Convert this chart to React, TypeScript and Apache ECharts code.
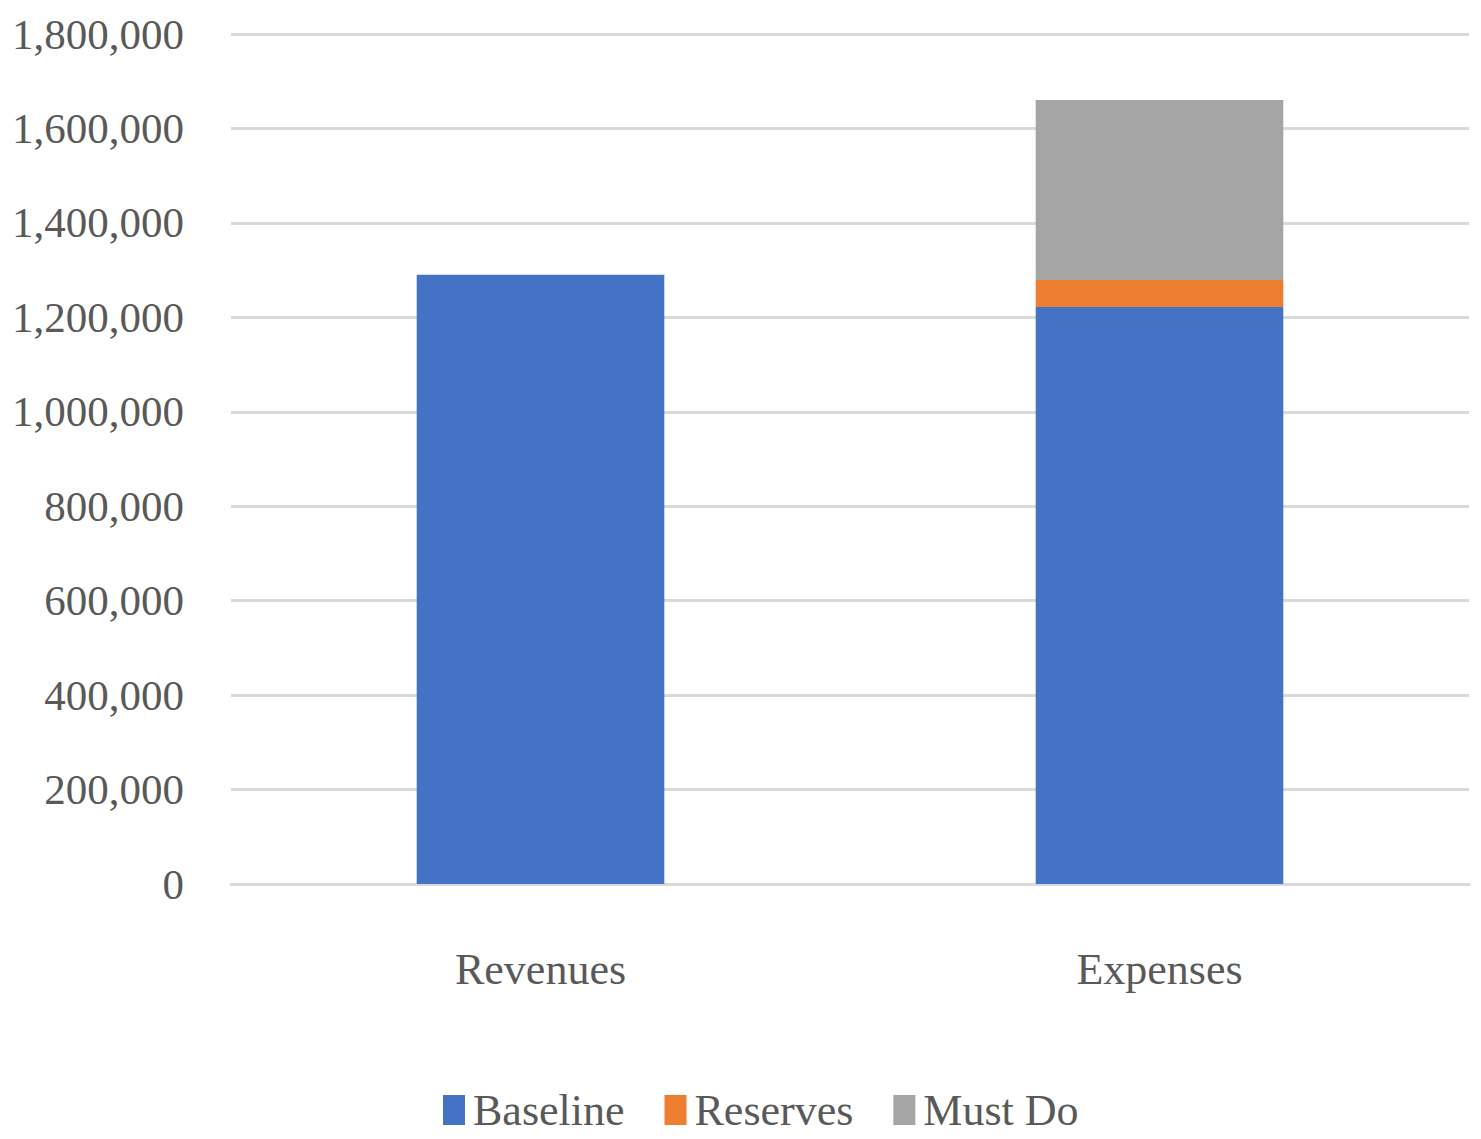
import React, { useEffect, useRef } from "react";
import * as echarts from "echarts";

const categories = ["Revenues", "Expenses"];
const baseline = [1290000, 1222000];
const reserves = [0, 57000];
const mustDo = [0, 381000];
const seriesNames = ["Baseline", "Reserves", "Must Do"];
const colors = ["#4472C4", "#ED7D31", "#A5A5A5"];

const FONT = "'Liberation Serif', 'Times New Roman', serif";
const TEXT_COLOR = "#595959";

export default function App() {
  const ref = useRef<HTMLDivElement>(null);
  useEffect(() => {
    document.body.style.margin = "0";
    const chart = echarts.init(ref.current!, null, { renderer: "svg" });
    const values = [baseline, reserves, mustDo];
    chart.setOption({
      animation: false,
      backgroundColor: "#ffffff",
      textStyle: { fontFamily: FONT },
      grid: { left: 231, right: 12, top: 34, bottom: 255, containLabel: false },
      legend: {
        bottom: 2,
        left: 438,
        itemWidth: 22,
        itemHeight: 30,
        itemGap: 40,
        icon: "rect",
        textStyle: { fontFamily: FONT, fontSize: 44, color: TEXT_COLOR, padding: [0, 0, 0, 3] },
        data: seriesNames,
      },
      xAxis: {
        type: "category",
        data: categories,
        axisTick: { show: false },
        axisLine: { show: true, lineStyle: { color: "#D9D9D9", width: 3 } },
        axisLabel: { fontFamily: FONT, fontSize: 44, color: TEXT_COLOR, margin: 63 },
      },
      yAxis: {
        type: "value",
        min: 0,
        max: 1800000,
        interval: 200000,
        axisLine: { show: false },
        axisTick: { show: false },
        splitLine: { lineStyle: { color: "#D9D9D9", width: 3 } },
        axisLabel: {
          fontFamily: FONT,
          fontSize: 43,
          color: TEXT_COLOR,
          margin: 47,
          formatter: (v: number) => v.toLocaleString("en-US"),
        },
      },
      series: seriesNames.map((name, i) => ({
        name,
        type: "bar",
        stack: "total",
        barWidth: "40%",
        itemStyle: { color: colors[i] },
        data: values[i],
      })),
    });
    return () => chart.dispose();
  }, []);
  return <div ref={ref} style={{ width: 1481, height: 1139 }} />;
}
